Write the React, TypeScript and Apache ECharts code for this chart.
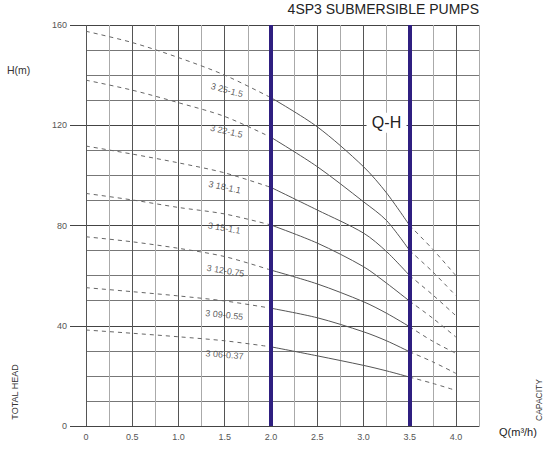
import { useEffect, useRef } from 'react';
import * as echarts from 'echarts';

const flowQ = [0, 0.5, 1.0, 1.5, 2.0, 2.5, 3.0, 3.25, 3.5, 3.75, 4.0];

const models = ['3 25-1.5', '3 22-1.5', '3 18-1.1', '3 15-1.1', '3 12-0.75', '3 09-0.55', '3 06-0.37'];

const head325 = [157.5, 153, 147, 140, 131, 119.4, 103.5, 93, 80, 70.5, 60];
const head322 = [138, 134, 129, 123.5, 115.2, 103.5, 89.5, 82, 70, 61.5, 52];
const head318 = [111.7, 108.5, 105, 101, 95.2, 86.2, 77, 69.6, 60, 52.3, 44];
const head315 = [92.8, 90.2, 87.2, 84.6, 80.2, 73, 63.6, 57, 49.8, 43, 35.5];
const head312 = [75.5, 73.5, 70.9, 67.6, 62.2, 56.7, 49.6, 45, 39.6, 33.8, 29];
const head309 = [55.2, 53.6, 51.9, 49.9, 47, 43.2, 37.6, 34, 29.6, 25.6, 21];
const head306 = [38.3, 37, 35.6, 34, 31.6, 28, 24.2, 22, 19.5, 17, 14.2];

const heads = [head325, head322, head318, head315, head312, head309, head306];

// working range shown by the two thick lines
const rangeQ = [2.0, 3.5];

const yTicks = [0, 40, 80, 120, 160];
const xTickLabels = ['0', '0.5', '1.0', '1.5', '2.0', '2.5', '3.0', '3.5', '4.0'];

// label tilt (deg) and small shifts, just looks
const labelTilt = [15, 13, 12, 10, 9, 6, 5];
const labelShiftX = [6, 5, 3, 2, 3, 1, 1];

const FONT = '"Liberation Sans", Arial, sans-serif';

export default function App() {
  const chartRef = useRef<HTMLDivElement>(null);

  useEffect(() => {
    if (!chartRef.current) return;
    const chart = echarts.init(chartRef.current, null, { renderer: 'svg' });

    const series: any[] = [];
    heads.forEach((h, i) => {
      const pts = flowQ.map((q, j) => [q, h[j]]);
      const left = pts.filter((p) => p[0] <= rangeQ[0]);
      const mid = pts.filter((p) => p[0] >= rangeQ[0] && p[0] <= rangeQ[1]);
      const right = pts.filter((p) => p[0] >= rangeQ[1]);
      const base = {
        type: 'line',
        showSymbol: false,
        symbol: 'none',
        smooth: 0.3,
        silent: true,
        z: 3,
      };
      series.push({ ...base, data: left, lineStyle: { color: '#666', width: 1, type: [4, 4] } });
      const solid: any = { ...base, data: mid, lineStyle: { color: '#555', width: 1 } };
      if (i === 0) {
        solid.markLine = {
          silent: true,
          symbol: ['none', 'none'],
          label: { show: false },
          lineStyle: { color: '#2f1f80', width: 4, type: 'solid' },
          data: rangeQ.map((q) => ({ xAxis: q })),
        };
        solid.markPoint = {
          silent: true,
          data: [
            {
              coord: [3.25, 121],
              symbol: 'rect',
              symbolSize: [40, 20],
              itemStyle: { color: '#fff' },
              label: {
                show: true,
                position: 'inside',
                formatter: 'Q-H',
                fontSize: 16,
                color: '#222',
                fontFamily: FONT,
              },
            },
          ],
        };
      }
      series.push(solid);
      series.push({ ...base, data: right, lineStyle: { color: '#666', width: 1, type: [4, 4] } });
    });

    series.push({
      type: 'scatter',
      silent: true,
      symbolSize: 1,
      itemStyle: { color: 'rgba(0,0,0,0)' },
      z: 4,
      data: models.map((m, i) => ({
        name: m,
        value: [flowQ[3], heads[i][3]],
        label: {
          show: true,
          position: 'inside',
          formatter: m,
          rotate: -labelTilt[i],
          offset: [labelShiftX[i], 14],
          fontSize: 9,
          color: '#333',
          fontFamily: FONT,
        },
      })),
    });

    const option = {
      animation: false,
      grid: { left: 86, right: 71, top: 25, bottom: 23 },
      xAxis: {
        type: 'value',
        min: 0,
        max: 4.25,
        interval: 0.25,
        axisLine: { show: true, lineStyle: { color: '#444', width: 1 } },
        axisTick: { show: false },
        axisLabel: {
          fontSize: 9,
          color: '#555',
          margin: 6,
          fontFamily: FONT,
          formatter: (v: number) => {
            const k = Math.round(v * 2);
            if (Math.abs(v * 2 - k) > 1e-6 || k >= xTickLabels.length) return '';
            return xTickLabels[k];
          },
        },
        splitLine: { show: true, lineStyle: { color: ['#555', '#aaa'], width: 1 } },
      },
      yAxis: {
        type: 'value',
        min: yTicks[0],
        max: yTicks[yTicks.length - 1],
        interval: 40,
        axisLine: { show: false },
        axisTick: { show: true, length: 16, lineStyle: { color: '#444' } },
        axisLabel: { fontSize: 9, color: '#555', margin: 19, fontFamily: FONT },
        splitLine: { show: true, lineStyle: { color: '#444', width: 1 } },
        minorTick: { show: false, splitNumber: 4 },
        minorSplitLine: { show: true, lineStyle: { color: '#777', width: 1 } },
      },
      graphic: [
        {
          type: 'text',
          right: 71,
          top: 2,
          style: { text: '4SP3 SUBMERSIBLE PUMPS', fontSize: 14, fill: '#222', fontFamily: FONT },
        },
        {
          type: 'text',
          left: 7,
          top: 64,
          style: { text: 'H(m)', fontSize: 10.5, fill: '#333', fontFamily: FONT },
        },
        {
          type: 'text',
          x: 15,
          y: 392,
          rotation: Math.PI / 2,
          style: { text: 'TOTAL HEAD', fontSize: 9, fill: '#333', align: 'center', verticalAlign: 'middle', fontFamily: FONT },
        },
        {
          type: 'text',
          x: 539,
          y: 400,
          rotation: Math.PI / 2,
          style: { text: 'CAPACITY', fontSize: 8.5, fill: '#333', align: 'center', verticalAlign: 'middle', fontFamily: FONT },
        },
        {
          type: 'text',
          left: 499,
          top: 426,
          style: { text: 'Q(m³/h)', fontSize: 11, fill: '#222', fontFamily: FONT },
        },
      ],
      series,
    };

    chart.setOption(option);
    return () => chart.dispose();
  }, []);

  return (
    <div
      ref={chartRef}
      style={{ position: 'fixed', left: 0, top: 0, width: 550, height: 449, background: '#fff' }}
    />
  );
}
